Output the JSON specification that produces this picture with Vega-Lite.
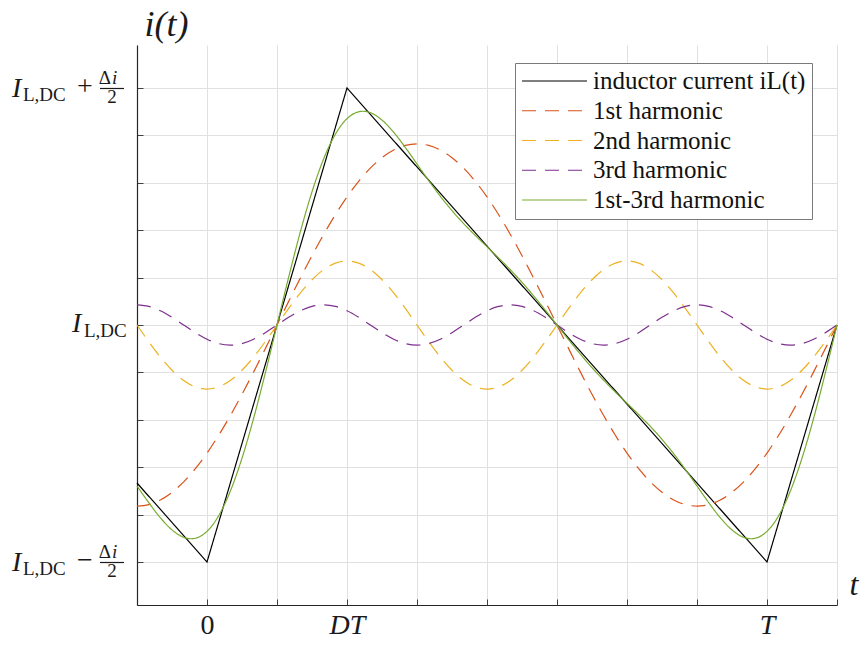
{
  "$schema": "https://vega.github.io/schema/vega-lite/v6.json",
  "width": 700,
  "height": 560,
  "autosize": {"type": "none"},
  "padding": {"left": 137, "top": 45, "right": 27, "bottom": 43},
  "background": "white",
  "config": {
    "view": {"stroke": null},
    "axis": {
      "labelFont": "Liberation Serif", "labelFontSize": 28, "labelColor": "#1a1a1a",
      "titleFont": "Liberation Serif", "titleFontStyle": "italic", "titleFontWeight": "normal", "titleColor": "#1a1a1a",
      "tickSize": -6, "tickColor": "#404040", "tickWidth": 1,
      "domainColor": "#262626", "domainWidth": 1.2,
      "grid": true, "gridColor": "#e0e0e0", "gridWidth": 1
    },
    "legend": {
      "symbolType": "stroke", "symbolSize": 4225, "symbolStrokeWidth": 1.2,
      "clipHeight": 24, "rowPadding": 4.75, "padding": 6,
      "labelFont": "Liberation Serif", "labelFontSize": 25, "labelColor": "#111111", "labelOffset": 5, "labelLimit": 400,
      "strokeColor": "#7a7a7a", "fillColor": "#ffffff"
    }
  },
  "datasets": {
    "current": [
      {"series": "inductor current iL(t)", "t": -0.125, "i": -0.66667},
      {"series": "inductor current iL(t)", "t": 0, "i": -1},
      {"series": "inductor current iL(t)", "t": 0.25, "i": 1},
      {"series": "inductor current iL(t)", "t": 1, "i": -1},
      {"series": "inductor current iL(t)", "t": 1.125, "i": 0}
    ],
    "harmonics": [
      {"t": -0.125, "1st harmonic": -0.76421, "2nd harmonic": 0, "3rd harmonic": 0.08491, "1st-3rd harmonic": -0.6793},
      {"t": -0.104167, "1st harmonic": -0.75767, "2nd harmonic": -0.06993, "3rd harmonic": 0.07845, "1st-3rd harmonic": -0.74915},
      {"t": -0.083333, "1st harmonic": -0.73817, "2nd harmonic": -0.1351, "3rd harmonic": 0.06004, "1st-3rd harmonic": -0.81323},
      {"t": -0.0625, "1st harmonic": -0.70604, "2nd harmonic": -0.19105, "3rd harmonic": 0.03249, "1st-3rd harmonic": -0.8646},
      {"t": -0.041667, "1st harmonic": -0.66182, "2nd harmonic": -0.23399, "3rd harmonic": 0, "1st-3rd harmonic": -0.89581},
      {"t": -0.020833, "1st harmonic": -0.60629, "2nd harmonic": -0.26098, "3rd harmonic": -0.03249, "1st-3rd harmonic": -0.89976},
      {"t": 0, "1st harmonic": -0.54038, "2nd harmonic": -0.27019, "3rd harmonic": -0.06004, "1st-3rd harmonic": -0.87061},
      {"t": 0.020833, "1st harmonic": -0.46522, "2nd harmonic": -0.26098, "3rd harmonic": -0.07845, "1st-3rd harmonic": -0.80465},
      {"t": 0.041667, "1st harmonic": -0.38211, "2nd harmonic": -0.23399, "3rd harmonic": -0.08491, "1st-3rd harmonic": -0.70101},
      {"t": 0.0625, "1st harmonic": -0.29245, "2nd harmonic": -0.19105, "3rd harmonic": -0.07845, "1st-3rd harmonic": -0.56195},
      {"t": 0.083333, "1st harmonic": -0.19779, "2nd harmonic": -0.1351, "3rd harmonic": -0.06004, "1st-3rd harmonic": -0.39293},
      {"t": 0.104167, "1st harmonic": -0.09975, "2nd harmonic": -0.06993, "3rd harmonic": -0.03249, "1st-3rd harmonic": -0.20217},
      {"t": 0.125, "1st harmonic": 0, "2nd harmonic": 0, "3rd harmonic": 0, "1st-3rd harmonic": 0},
      {"t": 0.145833, "1st harmonic": 0.09975, "2nd harmonic": 0.06993, "3rd harmonic": 0.03249, "1st-3rd harmonic": 0.20217},
      {"t": 0.166667, "1st harmonic": 0.19779, "2nd harmonic": 0.1351, "3rd harmonic": 0.06004, "1st-3rd harmonic": 0.39293},
      {"t": 0.1875, "1st harmonic": 0.29245, "2nd harmonic": 0.19105, "3rd harmonic": 0.07845, "1st-3rd harmonic": 0.56195},
      {"t": 0.208333, "1st harmonic": 0.38211, "2nd harmonic": 0.23399, "3rd harmonic": 0.08491, "1st-3rd harmonic": 0.70101},
      {"t": 0.229167, "1st harmonic": 0.46522, "2nd harmonic": 0.26098, "3rd harmonic": 0.07845, "1st-3rd harmonic": 0.80465},
      {"t": 0.25, "1st harmonic": 0.54038, "2nd harmonic": 0.27019, "3rd harmonic": 0.06004, "1st-3rd harmonic": 0.87061},
      {"t": 0.270833, "1st harmonic": 0.60629, "2nd harmonic": 0.26098, "3rd harmonic": 0.03249, "1st-3rd harmonic": 0.89976},
      {"t": 0.291667, "1st harmonic": 0.66182, "2nd harmonic": 0.23399, "3rd harmonic": 0, "1st-3rd harmonic": 0.89581},
      {"t": 0.3125, "1st harmonic": 0.70604, "2nd harmonic": 0.19105, "3rd harmonic": -0.03249, "1st-3rd harmonic": 0.8646},
      {"t": 0.333333, "1st harmonic": 0.73817, "2nd harmonic": 0.1351, "3rd harmonic": -0.06004, "1st-3rd harmonic": 0.81323},
      {"t": 0.354167, "1st harmonic": 0.75767, "2nd harmonic": 0.06993, "3rd harmonic": -0.07845, "1st-3rd harmonic": 0.74915},
      {"t": 0.375, "1st harmonic": 0.76421, "2nd harmonic": 0, "3rd harmonic": -0.08491, "1st-3rd harmonic": 0.6793},
      {"t": 0.395833, "1st harmonic": 0.75767, "2nd harmonic": -0.06993, "3rd harmonic": -0.07845, "1st-3rd harmonic": 0.60929},
      {"t": 0.416667, "1st harmonic": 0.73817, "2nd harmonic": -0.1351, "3rd harmonic": -0.06004, "1st-3rd harmonic": 0.54303},
      {"t": 0.4375, "1st harmonic": 0.70604, "2nd harmonic": -0.19105, "3rd harmonic": -0.03249, "1st-3rd harmonic": 0.4825},
      {"t": 0.458333, "1st harmonic": 0.66182, "2nd harmonic": -0.23399, "3rd harmonic": 0, "1st-3rd harmonic": 0.42783},
      {"t": 0.479167, "1st harmonic": 0.60629, "2nd harmonic": -0.26098, "3rd harmonic": 0.03249, "1st-3rd harmonic": 0.3778},
      {"t": 0.5, "1st harmonic": 0.54038, "2nd harmonic": -0.27019, "3rd harmonic": 0.06004, "1st-3rd harmonic": 0.33023},
      {"t": 0.520833, "1st harmonic": 0.46522, "2nd harmonic": -0.26098, "3rd harmonic": 0.07845, "1st-3rd harmonic": 0.28269},
      {"t": 0.541667, "1st harmonic": 0.38211, "2nd harmonic": -0.23399, "3rd harmonic": 0.08491, "1st-3rd harmonic": 0.23303},
      {"t": 0.5625, "1st harmonic": 0.29245, "2nd harmonic": -0.19105, "3rd harmonic": 0.07845, "1st-3rd harmonic": 0.17985},
      {"t": 0.583333, "1st harmonic": 0.19779, "2nd harmonic": -0.1351, "3rd harmonic": 0.06004, "1st-3rd harmonic": 0.12273},
      {"t": 0.604167, "1st harmonic": 0.09975, "2nd harmonic": -0.06993, "3rd harmonic": 0.03249, "1st-3rd harmonic": 0.06231},
      {"t": 0.625, "1st harmonic": 0, "2nd harmonic": 0, "3rd harmonic": 0, "1st-3rd harmonic": 0},
      {"t": 0.645833, "1st harmonic": -0.09975, "2nd harmonic": 0.06993, "3rd harmonic": -0.03249, "1st-3rd harmonic": -0.06231},
      {"t": 0.666667, "1st harmonic": -0.19779, "2nd harmonic": 0.1351, "3rd harmonic": -0.06004, "1st-3rd harmonic": -0.12273},
      {"t": 0.6875, "1st harmonic": -0.29245, "2nd harmonic": 0.19105, "3rd harmonic": -0.07845, "1st-3rd harmonic": -0.17985},
      {"t": 0.708333, "1st harmonic": -0.38211, "2nd harmonic": 0.23399, "3rd harmonic": -0.08491, "1st-3rd harmonic": -0.23303},
      {"t": 0.729167, "1st harmonic": -0.46522, "2nd harmonic": 0.26098, "3rd harmonic": -0.07845, "1st-3rd harmonic": -0.28269},
      {"t": 0.75, "1st harmonic": -0.54038, "2nd harmonic": 0.27019, "3rd harmonic": -0.06004, "1st-3rd harmonic": -0.33023},
      {"t": 0.770833, "1st harmonic": -0.60629, "2nd harmonic": 0.26098, "3rd harmonic": -0.03249, "1st-3rd harmonic": -0.3778},
      {"t": 0.791667, "1st harmonic": -0.66182, "2nd harmonic": 0.23399, "3rd harmonic": 0, "1st-3rd harmonic": -0.42783},
      {"t": 0.8125, "1st harmonic": -0.70604, "2nd harmonic": 0.19105, "3rd harmonic": 0.03249, "1st-3rd harmonic": -0.4825},
      {"t": 0.833333, "1st harmonic": -0.73817, "2nd harmonic": 0.1351, "3rd harmonic": 0.06004, "1st-3rd harmonic": -0.54303},
      {"t": 0.854167, "1st harmonic": -0.75767, "2nd harmonic": 0.06993, "3rd harmonic": 0.07845, "1st-3rd harmonic": -0.60929},
      {"t": 0.875, "1st harmonic": -0.76421, "2nd harmonic": 0, "3rd harmonic": 0.08491, "1st-3rd harmonic": -0.6793},
      {"t": 0.895833, "1st harmonic": -0.75767, "2nd harmonic": -0.06993, "3rd harmonic": 0.07845, "1st-3rd harmonic": -0.74915},
      {"t": 0.916667, "1st harmonic": -0.73817, "2nd harmonic": -0.1351, "3rd harmonic": 0.06004, "1st-3rd harmonic": -0.81323},
      {"t": 0.9375, "1st harmonic": -0.70604, "2nd harmonic": -0.19105, "3rd harmonic": 0.03249, "1st-3rd harmonic": -0.8646},
      {"t": 0.958333, "1st harmonic": -0.66182, "2nd harmonic": -0.23399, "3rd harmonic": 0, "1st-3rd harmonic": -0.89581},
      {"t": 0.979167, "1st harmonic": -0.60629, "2nd harmonic": -0.26098, "3rd harmonic": -0.03249, "1st-3rd harmonic": -0.89976},
      {"t": 1, "1st harmonic": -0.54038, "2nd harmonic": -0.27019, "3rd harmonic": -0.06004, "1st-3rd harmonic": -0.87061},
      {"t": 1.020833, "1st harmonic": -0.46522, "2nd harmonic": -0.26098, "3rd harmonic": -0.07845, "1st-3rd harmonic": -0.80465},
      {"t": 1.041667, "1st harmonic": -0.38211, "2nd harmonic": -0.23399, "3rd harmonic": -0.08491, "1st-3rd harmonic": -0.70101},
      {"t": 1.0625, "1st harmonic": -0.29245, "2nd harmonic": -0.19105, "3rd harmonic": -0.07845, "1st-3rd harmonic": -0.56195},
      {"t": 1.083333, "1st harmonic": -0.19779, "2nd harmonic": -0.1351, "3rd harmonic": -0.06004, "1st-3rd harmonic": -0.39293},
      {"t": 1.104167, "1st harmonic": -0.09975, "2nd harmonic": -0.06993, "3rd harmonic": -0.03249, "1st-3rd harmonic": -0.20217},
      {"t": 1.125, "1st harmonic": 0, "2nd harmonic": 0, "3rd harmonic": 0, "1st-3rd harmonic": 0}
    ],
    "ylab": [
      {"v": 1, "op": "+"},
      {"v": 0, "op": ""},
      {"v": -1, "op": "−"}
    ]
  },
  "layer": [
    {
      "data": {"name": "current"},
      "mark": {"type": "line", "strokeWidth": 1.2},
      "encoding": {
        "x": {
          "field": "t", "type": "quantitative",
          "scale": {"domain": [-0.125, 1.125], "nice": false, "zero": false},
          "axis": {
            "values": [-0.125, 0, 0.125, 0.25, 0.375, 0.5, 0.625, 0.75, 0.875, 1, 1.125],
            "labelExpr": "datum.value == 0 ? '0' : datum.value == 0.25 ? 'DT' : datum.value == 1 ? 'T' : ''",
            "labelFontStyle": {"condition": {"test": "datum.value == 0", "value": "normal"}, "value": "italic"},
            "labelPadding": 12, "labelFlush": false, "labelOverlap": false, "labelBaseline": "top",
            "title": "t", "titleFontSize": 32, "titleAlign": "left", "titleBaseline": "middle",
            "titleX": 712, "titleY": -21
          }
        },
        "y": {
          "field": "i", "type": "quantitative",
          "scale": {"domain": [-1.1814, 1.1814], "nice": false, "zero": false},
          "axis": {
            "values": [-1, -0.8, -0.6, -0.4, -0.2, 0, 0.2, 0.4, 0.6, 0.8, 1],
            "labels": false,
            "title": "i(t)", "titleFontSize": 36, "titleAngle": 0, "titleAlign": "left",
            "titleBaseline": "middle", "titleX": 7, "titleY": -21
          }
        },
        "color": {
          "field": "series", "type": "nominal",
          "scale": {
            "domain": ["inductor current iL(t)", "1st harmonic", "2nd harmonic", "3rd harmonic", "1st-3rd harmonic"],
            "range": ["#000000", "#D95319", "#EDB120", "#7E2F8E", "#77AC30"]
          },
          "legend": {"orient": "none", "legendX": 378, "legendY": 18, "title": null, "labelFont": "Liberation Serif"}
        },
        "strokeDash": {
          "field": "series", "type": "nominal",
          "scale": {
            "domain": ["inductor current iL(t)", "1st harmonic", "2nd harmonic", "3rd harmonic", "1st-3rd harmonic"],
            "range": [[1, 0], [14, 9], [14, 9], [14, 9], [1, 0]]
          },
          "legend": {"orient": "none", "legendX": 378, "legendY": 18, "title": null, "labelFont": "Liberation Serif"}
        }
      }
    },
    {
      "data": {"name": "harmonics"},
      "transform": [{"fold": ["1st harmonic", "2nd harmonic", "3rd harmonic", "1st-3rd harmonic"], "as": ["series", "i"]}],
      "mark": {"type": "line", "strokeWidth": 1.2, "interpolate": "cardinal"},
      "encoding": {
        "x": {"field": "t", "type": "quantitative", "scale": {"domain": [-0.125, 1.125], "nice": false, "zero": false}},
        "y": {"field": "i", "type": "quantitative", "scale": {"domain": [-1.1814, 1.1814], "nice": false, "zero": false}},
        "color": {
          "field": "series", "type": "nominal",
          "scale": {
            "domain": ["inductor current iL(t)", "1st harmonic", "2nd harmonic", "3rd harmonic", "1st-3rd harmonic"],
            "range": ["#000000", "#D95319", "#EDB120", "#7E2F8E", "#77AC30"]
          },
          "legend": {"orient": "none", "legendX": 378, "legendY": 18, "title": null, "labelFont": "Liberation Serif"}
        },
        "strokeDash": {
          "field": "series", "type": "nominal",
          "scale": {
            "domain": ["inductor current iL(t)", "1st harmonic", "2nd harmonic", "3rd harmonic", "1st-3rd harmonic"],
            "range": [[1, 0], [14, 9], [14, 9], [14, 9], [1, 0]]
          },
          "legend": {"orient": "none", "legendX": 378, "legendY": 18, "title": null, "labelFont": "Liberation Serif"}
        }
      }
    },
    {
      "data": {"name": "ylab"},
      "transform": [{"filter": "datum.v != 0"}],
      "mark": {"type": "text", "text": "I", "font": "Liberation Serif", "fontStyle": "italic", "fontSize": 28, "align": "left", "baseline": "alphabetic", "dx": -125, "dy": 9, "color": "#1a1a1a"},
      "encoding": {
        "x": {"datum": -0.125, "type": "quantitative"},
        "y": {"field": "v", "type": "quantitative"}
      }
    },
    {
      "data": {"name": "ylab"},
      "transform": [{"filter": "datum.v != 0"}],
      "mark": {"type": "text", "text": "L,DC", "font": "Liberation Serif", "fontSize": 19, "align": "left", "baseline": "alphabetic", "dx": -114, "dy": 13, "color": "#1a1a1a"},
      "encoding": {
        "x": {"datum": -0.125, "type": "quantitative"},
        "y": {"field": "v", "type": "quantitative"}
      }
    },
    {
      "data": {"name": "ylab"},
      "transform": [{"filter": "datum.v != 0"}],
      "mark": {"type": "text", "font": "Liberation Serif", "fontSize": 28, "align": "center", "baseline": "alphabetic", "dx": -52, "dy": 7, "color": "#1a1a1a"},
      "encoding": {
        "x": {"datum": -0.125, "type": "quantitative"},
        "y": {"field": "v", "type": "quantitative"},
        "text": {"field": "op"}
      }
    },
    {
      "data": {"name": "ylab"},
      "transform": [{"filter": "datum.v != 0"}],
      "mark": {"type": "text", "text": "Δ", "font": "Liberation Serif", "fontSize": 19, "align": "right", "baseline": "alphabetic", "dx": -26, "dy": -4, "color": "#1a1a1a"},
      "encoding": {
        "x": {"datum": -0.125, "type": "quantitative"},
        "y": {"field": "v", "type": "quantitative"}
      }
    },
    {
      "data": {"name": "ylab"},
      "transform": [{"filter": "datum.v != 0"}],
      "mark": {"type": "text", "text": "i", "font": "Liberation Serif", "fontStyle": "italic", "fontSize": 19, "align": "left", "baseline": "alphabetic", "dx": -25, "dy": -4, "color": "#1a1a1a"},
      "encoding": {
        "x": {"datum": -0.125, "type": "quantitative"},
        "y": {"field": "v", "type": "quantitative"}
      }
    },
    {
      "data": {"name": "ylab"},
      "transform": [{"filter": "datum.v != 0"}],
      "mark": {"type": "rule", "xOffset": -37, "x2Offset": -13, "yOffset": 0.5, "strokeWidth": 1.2, "color": "#1a1a1a"},
      "encoding": {
        "x": {"datum": -0.125, "type": "quantitative"},
        "x2": {"datum": -0.125},
        "y": {"field": "v", "type": "quantitative"}
      }
    },
    {
      "data": {"name": "ylab"},
      "transform": [{"filter": "datum.v != 0"}],
      "mark": {"type": "text", "text": "2", "font": "Liberation Serif", "fontSize": 19, "align": "center", "baseline": "alphabetic", "dx": -25, "dy": 15, "color": "#1a1a1a"},
      "encoding": {
        "x": {"datum": -0.125, "type": "quantitative"},
        "y": {"field": "v", "type": "quantitative"}
      }
    },
    {
      "data": {"name": "ylab"},
      "transform": [{"filter": "datum.v == 0"}],
      "mark": {"type": "text", "text": "I", "font": "Liberation Serif", "fontStyle": "italic", "fontSize": 28, "align": "left", "baseline": "alphabetic", "dx": -65, "dy": 7, "color": "#1a1a1a"},
      "encoding": {
        "x": {"datum": -0.125, "type": "quantitative"},
        "y": {"field": "v", "type": "quantitative"}
      }
    },
    {
      "data": {"name": "ylab"},
      "transform": [{"filter": "datum.v == 0"}],
      "mark": {"type": "text", "text": "L,DC", "font": "Liberation Serif", "fontSize": 19, "align": "left", "baseline": "alphabetic", "dx": -53, "dy": 12, "color": "#1a1a1a"},
      "encoding": {
        "x": {"datum": -0.125, "type": "quantitative"},
        "y": {"field": "v", "type": "quantitative"}
      }
    }
  ]
}
